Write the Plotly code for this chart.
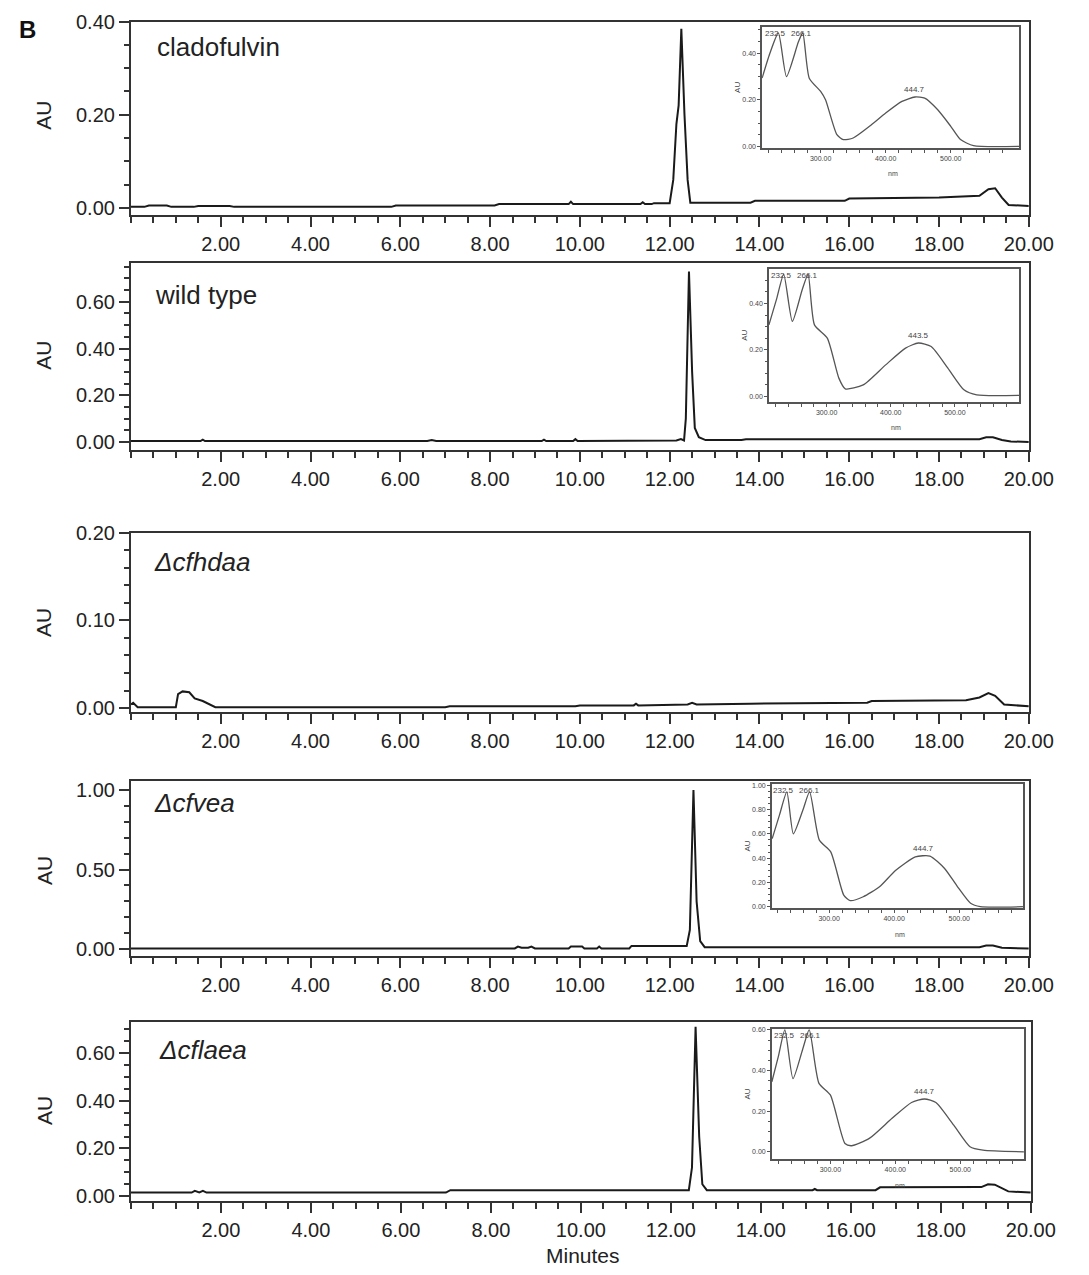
import plotly.graph_objects as go

W, H = 1089, 1275

# ---------------- Chromatogram data (minutes, AU) ----------------
t_cladofulvin = [0.0, 0.3, 0.4, 0.8, 0.9, 1.4, 1.5, 2.2, 2.3, 5.8, 5.9, 8.1, 8.2, 9.75, 9.8, 9.85,
                 11.35, 11.4, 11.45, 11.6, 11.65, 12.0, 12.08, 12.15, 12.2, 12.26, 12.33, 12.4, 12.46,
                 13.8, 13.9, 15.9, 16.0, 18.0, 18.9, 19.1, 19.25, 19.4, 19.55, 20.0]
au_cladofulvin = [0.002, 0.002, 0.005, 0.005, 0.002, 0.002, 0.004, 0.004, 0.002, 0.002, 0.005, 0.005, 0.008, 0.008, 0.013, 0.008,
                  0.008, 0.012, 0.008, 0.008, 0.010, 0.010, 0.06, 0.18, 0.22, 0.385, 0.20, 0.06, 0.011,
                  0.011, 0.015, 0.015, 0.020, 0.022, 0.026, 0.040, 0.042, 0.022, 0.006, 0.004]

t_wildtype = [0.0, 1.55, 1.6, 1.65, 6.6, 6.7, 6.8, 9.15, 9.2, 9.25, 9.85, 9.9, 9.95, 12.15, 12.25, 12.32,
              12.36, 12.43, 12.5, 12.56, 12.65, 12.8, 13.6, 13.7, 18.9, 19.05, 19.2, 19.4, 19.6, 20.0]
au_wildtype = [0.004, 0.004, 0.010, 0.004, 0.004, 0.008, 0.004, 0.004, 0.010, 0.004, 0.004, 0.012, 0.004, 0.006, 0.012, 0.006,
               0.10, 0.73, 0.30, 0.06, 0.02, 0.008, 0.008, 0.011, 0.012, 0.020, 0.020, 0.008, 0.002, 0.0]

t_cfhdaa = [0.0, 0.05, 0.15, 1.0, 1.05, 1.15, 1.3, 1.42, 1.6, 1.88, 7.0, 7.1, 9.9, 10.0, 11.2, 11.25, 11.3,
            12.4, 12.5, 12.6, 13.8, 16.4, 16.5, 18.6, 18.9, 19.1, 19.25, 19.45, 20.0]
au_cfhdaa = [0.004, 0.006, 0.001, 0.001, 0.016, 0.019, 0.018, 0.011, 0.008, 0.001, 0.001, 0.002, 0.002, 0.003, 0.003, 0.005, 0.003,
             0.004, 0.006, 0.004, 0.005, 0.006, 0.008, 0.009, 0.012, 0.017, 0.014, 0.004, 0.002]

t_cfvea = [0.0, 8.55, 8.62, 8.7, 8.85, 8.92, 9.0, 9.75, 9.8, 10.05, 10.1, 10.38, 10.43, 10.48, 11.1, 11.15,
           12.38, 12.45, 12.53, 12.6, 12.68, 12.78, 18.9, 19.05, 19.2, 19.4, 20.0]
au_cfvea = [0.004, 0.004, 0.016, 0.008, 0.008, 0.016, 0.004, 0.004, 0.016, 0.016, 0.004, 0.004, 0.016, 0.004, 0.004, 0.020,
            0.020, 0.12, 1.0, 0.30, 0.05, 0.012, 0.012, 0.022, 0.022, 0.008, 0.004]

t_cflaea = [0.0, 1.35, 1.42, 1.52, 1.6, 1.68, 7.0, 7.1, 12.4, 12.47, 12.55, 12.63, 12.7, 12.8, 15.15, 15.2, 15.25,
            16.55, 16.65, 18.9, 19.05, 19.2, 19.5, 20.0]
au_cflaea = [0.015, 0.015, 0.022, 0.016, 0.022, 0.015, 0.015, 0.025, 0.025, 0.12, 0.71, 0.25, 0.05, 0.025, 0.025, 0.030, 0.025,
             0.025, 0.037, 0.038, 0.050, 0.048, 0.020, 0.015]

panel_labels = ["cladofulvin", "wild type", "<i>Δcfhdaa</i>", "<i>Δcfvea</i>", "<i>Δcflaea</i>"]
x_tick_vals = [2, 4, 6, 8, 10, 12, 14, 16, 18, 20]
x_tick_text = ["2.00", "4.00", "6.00", "8.00", "10.00", "12.00", "14.00", "16.00", "18.00", "20.00"]
y_ticks_1 = [0.0, 0.2, 0.4]
y_ticks_2 = [0.0, 0.2, 0.4, 0.6]
y_ticks_3 = [0.0, 0.1, 0.2]
y_ticks_4 = [0.0, 0.5, 1.0]
y_ticks_5 = [0.0, 0.2, 0.4, 0.6]

# ---------------- UV spectra insets (nm, AU) ----------------
nm_inset1 = [210, 222, 235, 247.5, 266, 272.5, 282.5, 300, 307.5, 325, 335, 350, 375, 400, 425, 445, 460, 480, 500, 515, 535, 605]
au_inset1 = [0.293, 0.40, 0.487, 0.30, 0.45, 0.487, 0.293, 0.236, 0.20, 0.05, 0.029, 0.036, 0.086, 0.143, 0.193, 0.212, 0.207, 0.157, 0.086, 0.029, 0.003, 0.0]
nm_inset2 = [210, 222, 233, 246.5, 262, 271, 281, 301, 319, 329, 357, 392, 423, 443, 463, 489, 514, 534, 600]
au_inset2 = [0.308, 0.42, 0.525, 0.323, 0.46, 0.525, 0.308, 0.251, 0.079, 0.033, 0.05, 0.136, 0.208, 0.23, 0.215, 0.122, 0.029, 0.007, 0.005]
nm_inset4 = [212.5, 224, 235, 245, 260, 270, 285, 302.5, 322.5, 332.5, 352.5, 377.5, 402.5, 432.5, 455, 477.5, 497.5, 517.5, 532.5, 598]
au_inset4 = [0.56, 0.76, 0.945, 0.60, 0.80, 0.945, 0.548, 0.452, 0.096, 0.05, 0.082, 0.164, 0.30, 0.41, 0.417, 0.315, 0.164, 0.028, 0.0, 0.0]
nm_inset5 = [210, 220, 230, 242.5, 257, 267.5, 282.5, 300, 322.5, 332.5, 360, 395, 425, 445, 462.5, 490, 515, 535, 598]
au_inset5 = [0.345, 0.47, 0.60, 0.36, 0.50, 0.60, 0.337, 0.28, 0.041, 0.03, 0.066, 0.165, 0.243, 0.26, 0.243, 0.131, 0.025, 0.008, 0.0]
inset_peak_labels = [("232.5", 230), ("266.1", 270)]
inset_main_labels = ["444.7", "443.5", "444.7", "444.7"]

# ---------------- layout helpers (target window pixels -> paper coords) ----------------
AY, BY = 0.9855, 11.3   # vertical correction measured from previous renders

def px_x(p):
    return p / W

def px_y(p):
    return 1 - ((p - BY) / AY) / H

FONT = "Liberation Sans, Arial, Helvetica, sans-serif"
AXC = "#333333"

panels = [
    # (t, au, top_px, bottom_px, yrange, yticks, yminor, label_y_px, au_y_px, label_x)
    (t_cladofulvin, au_cladofulvin, 22, 215, [-0.015, 0.40], y_ticks_1, 0.05, 47, 115, 159),
    (t_wildtype, au_wildtype, 263, 450, [-0.034, 0.767], y_ticks_2, 0.05, 295, 355, 157),
    (t_cfhdaa, au_cfhdaa, 533, 712, [-0.0045, 0.20], y_ticks_3, 0.02, 562, 622, 156),
    (t_cfvea, au_cfvea, 781, 956, [-0.044, 1.057], y_ticks_4, 0.1, 803, 870, 156),
    (t_cflaea, au_cflaea, 1022, 1201, [-0.021, 0.73], y_ticks_5, 0.05, 1050, 1110, 161),
]

fig = go.Figure()
layout = {}
annotations = []

x_minor_vals = [i * 0.5 for i in range(0, 41)]

for i, (t, au, top, bot, yr, yt, ymin_step, lab_y, au_y, lab_x) in enumerate(panels):
    n = i + 1
    xa = "x" if n == 1 else f"x{n}"
    ya = "y" if n == 1 else f"y{n}"
    fig.add_trace(go.Scatter(x=t, y=au, mode="lines", line=dict(color="#1a1a1a", width=2),
                             xaxis=xa, yaxis=ya, showlegend=False, hoverinfo="skip"))
    xkey = "xaxis" if n == 1 else f"xaxis{n}"
    ykey = "yaxis" if n == 1 else f"yaxis{n}"
    nminor = int(round((yr[1]) / ymin_step)) + 1
    yminor_vals = [round(k * ymin_step, 4) for k in range(0, nminor) if k * ymin_step <= yr[1] + 1e-9]
    right = 1055 if n == len(panels) else 1053
    layout[xkey] = dict(domain=[px_x(134), px_x(right)], anchor=ya, range=[0, 20],
                        showline=True, linecolor=AXC, linewidth=2, mirror=True,
                        ticks="outside", ticklen=10, tickwidth=2, tickcolor=AXC,
                        tickmode="array", tickvals=x_tick_vals, ticktext=x_tick_text,
                        tickfont=dict(family=FONT, size=20, color="#222"),
                        minor=dict(tickmode="array", tickvals=x_minor_vals, ticks="outside",
                                   ticklen=6, tickwidth=2, tickcolor=AXC, showgrid=False),
                        showgrid=False, zeroline=False, fixedrange=True)
    layout[ykey] = dict(domain=[px_y(bot), min(px_y(top), 1.0)], anchor=xa, range=yr,
                        showline=True, linecolor=AXC, linewidth=2, mirror=True,
                        ticks="outside", ticklen=10, tickwidth=2, tickcolor=AXC,
                        tickmode="array", tickvals=yt, ticktext=[f"{v:.2f}" for v in yt],
                        tickfont=dict(family=FONT, size=20, color="#222"),
                        minor=dict(tickmode="array", tickvals=yminor_vals, ticks="outside",
                                   ticklen=5, tickwidth=2, tickcolor=AXC, showgrid=False),
                        showgrid=False, zeroline=False, fixedrange=True)
    annotations.append(dict(x=px_x(lab_x), y=px_y(lab_y), xref="paper", yref="paper",
                            text=panel_labels[i], showarrow=False, xanchor="left", yanchor="middle",
                            font=dict(family=FONT, size=26, color="#222")))
    annotations.append(dict(x=px_x(45), y=px_y(au_y), xref="paper", yref="paper", text="AU",
                            textangle=-90, showarrow=False, xanchor="center", yanchor="middle",
                            font=dict(family=FONT, size=21, color="#222")))

insets = [
    # (nm, au, x0, x1, top, bot, xrange, yrange, yticks, yminor, peak label, main peak nm)
    (nm_inset1, au_inset1, 780, 1043, 27, 148, [210, 605], [-0.006, 0.514], [0.0, 0.2, 0.4], 0.05, inset_main_labels[0], 445),
    (nm_inset2, au_inset2, 787, 1043, 269, 402, [210, 600], [-0.023, 0.549], [0.0, 0.2, 0.4], 0.05, inset_main_labels[1], 443),
    (nm_inset4, au_inset4, 790, 1047, 784, 908, [212, 598], [-0.011, 1.01], [0.0, 0.2, 0.4, 0.6, 0.8, 1.0], 0.05, inset_main_labels[2], 445),
    (nm_inset5, au_inset5, 790, 1048, 1029, 1159, [210, 598], [-0.036, 0.604], [0.0, 0.2, 0.4, 0.6], 0.05, inset_main_labels[3], 445),
]
INC = "#555555"
inset_minor_x = list(range(220, 600, 20))
for j, (nm, au, x0, x1, top, bot, xr, yr, yt, ymn, plab, pnm) in enumerate(insets):
    n = 6 + j
    xa, ya = f"x{n}", f"y{n}"
    fig.add_trace(go.Scatter(x=nm, y=au, mode="lines", line=dict(color="#555", width=1.3, shape="spline", smoothing=0.6),
                             xaxis=xa, yaxis=ya, showlegend=False, hoverinfo="skip"))
    yminor_vals = [round(k * ymn, 4) for k in range(0, int(yr[1] / ymn) + 1)]
    layout[f"xaxis{n}"] = dict(domain=[px_x(x0), px_x(x1)], anchor=ya, range=xr,
                               showline=True, linecolor=INC, linewidth=1.5, mirror=True,
                               ticks="outside", ticklen=3, tickwidth=1, tickcolor=INC,
                               tickmode="array", tickvals=[300, 400, 500], ticktext=["300.00", "400.00", "500.00"],
                               tickfont=dict(family=FONT, size=7, color="#444"),
                               minor=dict(tickmode="array", tickvals=inset_minor_x, ticks="outside",
                                          ticklen=3, tickwidth=1, tickcolor=INC),
                               showgrid=False, zeroline=False, fixedrange=True)
    layout[f"yaxis{n}"] = dict(domain=[px_y(bot), px_y(top)], anchor=xa, range=yr,
                               showline=True, linecolor=INC, linewidth=1.5, mirror=True,
                               ticks="outside", ticklen=3, tickwidth=1, tickcolor=INC,
                               tickmode="array", tickvals=yt, ticktext=[f"{v:.2f}" for v in yt],
                               tickfont=dict(family=FONT, size=7, color="#444"),
                               minor=dict(tickmode="array", tickvals=yminor_vals, ticks="outside",
                                          ticklen=2, tickwidth=1, tickcolor=INC),
                               showgrid=False, zeroline=False, fixedrange=True)
    for txt, pn in inset_peak_labels:
        annotations.append(dict(x=pn, y=yr[1], xref=xa, yref=ya, text=txt, showarrow=False,
                                xanchor="center", yanchor="top", font=dict(family=FONT, size=8, color="#444")))
    pk = max(a for w, a in zip(nm, au) if w > 380)
    annotations.append(dict(x=pnm, y=pk, xref=xa, yref=ya, text=plab, showarrow=False,
                            xanchor="center", yanchor="bottom", yshift=1,
                            font=dict(family=FONT, size=8, color="#444")))
    annotations.append(dict(x=(px_x(x0) + px_x(x1)) / 2 + 0.002, y=px_y(bot + 26), xref="paper", yref="paper",
                            text="nm", showarrow=False, xanchor="center", yanchor="middle",
                            font=dict(family=FONT, size=7, color="#444")))
    annotations.append(dict(x=px_x(x0 - 25), y=px_y((top + bot) / 2), xref="paper", yref="paper",
                            text="AU", textangle=-90, showarrow=False, xanchor="center", yanchor="middle",
                            font=dict(family=FONT, size=8, color="#444")))

annotations.append(dict(x=px_x(28), y=px_y(30), xref="paper", yref="paper", text="<b>B</b>",
                        showarrow=False, xanchor="center", yanchor="middle",
                        font=dict(family=FONT, size=24, color="#111")))
annotations.append(dict(x=px_x(597), y=px_y(1255), xref="paper", yref="paper", text="Minutes",
                        showarrow=False, xanchor="center", yanchor="middle",
                        font=dict(family=FONT, size=21, color="#222")))

fig.update_layout(width=W, height=H, margin=dict(l=0, r=0, t=0, b=0),
                  paper_bgcolor="white", plot_bgcolor="white",
                  annotations=annotations, **layout)

# remove the default page margin so the figure fills the window exactly
fig.write_html("out.html", config={"displayModeBar": False},
               post_script="document.body.style.margin='0';document.body.style.overflow='hidden';"
                           "document.documentElement.style.overflow='hidden';")
